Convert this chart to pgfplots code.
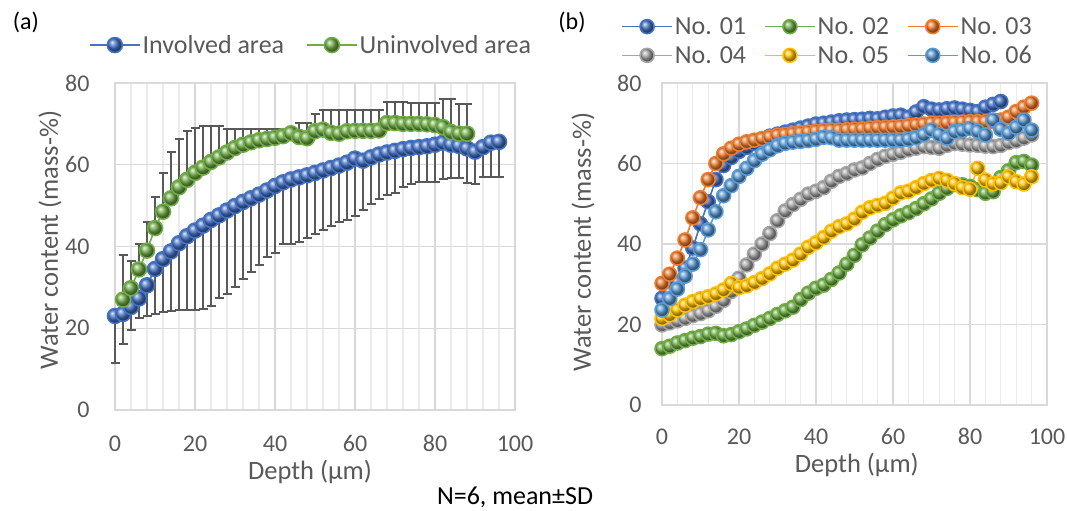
\documentclass[border=0pt]{standalone}
\usepackage{pgfplots}
\pgfplotsset{compat=1.18}
\usepackage{pgfplotstable}
\usepackage{fontspec}
\setmainfont{Carlito}

\definecolor{s1}{HTML}{4472C4}
\definecolor{s2}{HTML}{70AD47}
\definecolor{s3}{HTML}{ED7D31}
\definecolor{s4}{HTML}{A5A5A5}
\definecolor{s5}{HTML}{FFC000}
\definecolor{s6}{HTML}{5B9BD5}
\definecolor{txt}{HTML}{595959}
\definecolor{errc}{HTML}{595959}
\definecolor{gridc}{HTML}{D9D9D9}
\definecolor{gridm}{HTML}{EBEBEB}

% involved area: depth, mean, SD (drawn downwards)
\pgfplotstableread{
x y e
0 23.0 11.5
2 23.5 7.4
4 25.2 5.7
6 27.3 4.8
8 30.5 7.5
10 34.5 11.0
12 36.9 12.9
14 38.8 14.6
16 40.8 16.4
18 42.5 18.1
20 43.9 19.4
22 45.1 20.5
24 46.5 21.1
26 47.6 20.3
28 48.8 20.3
30 49.9 19.9
32 50.9 18.9
34 51.8 18.1
36 52.7 17.3
38 53.7 16.2
40 54.8 16.3
42 55.7 15.2
44 56.4 15.9
46 56.9 15.9
48 57.4 15.4
50 58.0 15.0
52 58.6 14.6
54 59.2 14.2
56 59.8 13.8
58 60.5 13.9
60 61.5 14.0
62 61.0 12.0
64 61.8 11.3
66 62.5 11.0
68 63.0 10.5
70 63.4 10.2
72 63.8 9.3
74 64.1 8.8
76 64.3 8.5
78 64.5 8.6
80 64.9 9.0
82 65.4 8.9
84 64.9 8.1
86 64.6 7.8
88 64.0 8.5
90 63.2 7.8
92 64.3 7.3
94 65.4 8.4
96 65.6 8.6
}\involved

% uninvolved area: depth, mean, SD (drawn upwards)
\pgfplotstableread{
x y e
2 27.0 10.8
4 29.8 6.7
6 34.4 6.3
8 39.0 7.0
10 44.5 7.5
12 48.5 9.5
14 51.8 11.2
16 54.5 11.8
18 56.3 12.0
20 58.0 11.0
22 59.3 10.2
24 60.7 8.8
26 61.8 7.7
28 63.0 5.8
30 64.1 4.7
32 64.9 3.9
34 65.5 3.3
36 66.0 2.8
38 66.3 2.5
40 66.6 2.2
42 67.0 1.8
44 67.7 1.1
46 66.8 3.4
48 66.5 3.7
50 68.2 4.2
52 68.6 4.8
54 67.8 5.6
56 67.6 5.8
58 68.2 5.2
60 68.3 5.1
62 68.3 5.1
64 68.3 5.1
66 68.4 5.0
68 70.2 5.2
70 70.2 5.2
72 70.0 5.4
74 70.0 5.0
76 70.0 5.0
78 69.9 5.1
80 69.7 5.3
82 69.2 6.9
84 68.0 8.1
86 67.6 7.3
88 67.6 7.3
}\uninvolved

% individual subjects No. 01 - No. 06
\pgfplotstableread{
x a b c d e f
0 26.5 14.0 30.2 19.9 21.5 23.6
2 28.0 14.6 32.5 20.4 22.4 26.4
4 30.5 15.4 36.5 20.9 23.6 28.8
6 34.0 16.0 41.0 21.5 24.8 32.0
8 39.0 16.6 46.5 22.2 25.7 35.0
10 45.0 17.0 51.5 22.7 26.4 38.6
12 50.5 17.6 56.0 23.4 26.9 43.5
14 56.0 17.8 60.0 24.5 27.6 48.0
16 59.5 17.2 62.4 26.0 28.6 52.0
18 61.5 17.5 63.8 28.2 30.2 54.5
20 63.0 18.2 64.8 31.5 29.2 56.8
22 64.0 18.9 65.4 34.8 29.6 58.8
24 65.0 19.8 65.8 37.5 30.4 60.7
26 66.0 20.6 66.2 40.0 31.4 62.3
28 66.8 21.5 66.6 42.6 32.6 63.4
30 67.3 22.5 67.0 45.8 34.0 64.4
32 67.8 23.4 67.2 48.2 35.0 65.0
34 68.3 24.3 67.4 49.8 36.0 65.3
36 68.8 26.2 67.6 51.1 37.5 65.5
38 69.3 27.8 67.8 52.4 39.2 65.7
40 69.8 29.0 68.0 53.1 40.3 66.0
42 70.0 29.8 68.2 54.0 41.6 66.5
44 70.3 31.2 68.3 55.6 43.2 66.4
46 70.6 32.8 68.3 56.8 44.3 65.8
48 70.8 35.0 68.4 57.5 45.0 65.8
50 70.9 37.2 68.5 58.4 46.2 65.8
52 71.0 39.8 68.6 58.9 47.9 65.8
54 71.2 41.5 68.8 60.0 49.0 65.8
56 71.1 43.2 68.9 61.0 49.6 65.8
58 71.5 44.8 69.0 61.8 50.1 65.8
60 71.8 46.0 69.1 62.3 51.4 65.8
62 72.0 47.0 69.2 62.8 52.7 65.8
64 71.5 47.8 69.4 63.4 53.1 66.0
66 72.8 48.8 69.6 63.8 54.0 66.4
68 74.1 50.0 69.8 64.2 55.0 67.2
70 73.5 51.2 70.0 64.0 55.8 68.3
72 73.3 52.6 70.0 63.8 56.3 67.2
74 73.6 53.8 70.1 64.5 55.8 66.3
76 73.8 54.8 70.2 65.0 55.0 67.9
78 73.5 54.7 70.3 64.8 54.0 68.2
80 73.2 54.3 70.4 64.6 53.6 68.7
82 72.9 53.5 70.4 64.5 58.8 68.0
84 74.0 52.6 70.4 64.3 55.9 67.1
86 74.7 53.0 70.4 64.2 55.0 70.8
88 75.4 56.5 70.8 64.5 55.2 68.5
90 nan 58.2 71.5 65.2 56.7 67.5
92 nan 60.2 72.9 65.6 55.5 69.0
94 nan 60.5 74.0 66.3 54.9 70.8
96 nan 59.6 75.0 67.1 56.7 68.3
}\subjects

\pgfplotsset{
  panel/.style={
    scale only axis,
    xmin=0, xmax=100, ymin=0, ymax=80,
    xtick={0,20,...,100}, ytick={0,20,...,80},
    minor x tick num=4,
    grid=both,
    major grid style={draw=gridc, line width=1.3pt},
    minor grid style={draw=gridm, line width=1.3pt},
    axis line style={draw=gridc, line width=1.5pt},
    tick style={draw=none},
    /pgf/number format/assume math mode=true,
    tick label style={font=\fontsize{24}{28}\selectfont, text=txt},
    label style={font=\fontsize{26.5}{30}\selectfont, text=txt},
    clip=false,
    legend cell align=left,
    legend image code/.code={
      \draw[mark repeat=2, mark phase=2, #1] plot coordinates {(0pt,0pt) (25pt,0pt) (50pt,0pt)};
    },
  },
  ser/.style={color=#1, line width=1.6pt, mark=ball, mark size=7.5pt,
    mark options={ball color=#1, draw=none}},
}

\begin{document}
\begin{tikzpicture}
\path[use as bounding box] (0pt,0pt) rectangle (1068pt,511pt);

\begin{axis}[panel,
  at={(115pt,101pt)}, anchor=south west,
  width=400pt, height=327pt,
  xlabel={Depth (µm)}, ylabel={Water content (mass-\%)},
  xticklabel style={yshift=-22pt},
  yticklabel style={xshift=-22pt},
  xlabel style={at={(axis description cs:0.4875,0)}, anchor=center, yshift=-62pt},
  ylabel style={at={(axis description cs:0,0.52)}, anchor=center, yshift=65pt},
  legend columns=2,
  legend style={at={(axis description cs:0.49,1.116)}, anchor=center,
    draw=none, fill=none, font=\fontsize{26}{30}\selectfont, text=txt,
    /tikz/every even column/.append style={column sep=20pt}},
]
\addplot[forget plot, draw=none, mark=none,
  error bars/.cd, y dir=minus, y explicit,
  error bar style={line width=2pt, color=errc},
  error mark options={rotate=90, mark size=4.5pt, line width=2pt, color=errc}]
  table[x=x, y=y, y error=e] {\involved};
\addplot[forget plot, draw=none, mark=none,
  error bars/.cd, y dir=plus, y explicit,
  error bar style={line width=2pt, color=errc},
  error mark options={rotate=90, mark size=4.5pt, line width=2pt, color=errc}]
  table[x=x, y=y, y error=e] {\uninvolved};
\addplot[ser=s1] table[x=x, y=y] {\involved};
\addlegendentry{Involved area}
\addplot[ser=s2] table[x=x, y=y] {\uninvolved};
\addlegendentry{Uninvolved area}
\end{axis}

\begin{axis}[panel,
  at={(662pt,106pt)}, anchor=south west,
  width=385pt, height=322pt,
  xlabel={Depth (µm)}, ylabel={Water content (mass-\%)},
  xticklabel style={yshift=-20pt},
  yticklabel style={xshift=-17pt},
  xlabel style={at={(axis description cs:0.506,0)}, anchor=center, yshift=-60pt},
  ylabel style={at={(axis description cs:0,0.506)}, anchor=center, yshift=79pt},
  legend columns=3,
  legend style={at={(axis description cs:0.43,1.13)}, anchor=center,
    draw=none, fill=none, font=\fontsize{26}{30}\selectfont, text=txt,
    /tikz/every even column/.append style={column sep=16pt},
    row sep=6pt},
  ser/.append style={mark size=7pt},
]
\addplot[ser=s1] table[x=x, y=a] {\subjects};
\addlegendentry{No. 01}
\addplot[ser=s2] table[x=x, y=b] {\subjects};
\addlegendentry{No. 02}
\addplot[ser=s3] table[x=x, y=c] {\subjects};
\addlegendentry{No. 03}
\addplot[ser=s4] table[x=x, y=d] {\subjects};
\addlegendentry{No. 04}
\addplot[ser=s5] table[x=x, y=e] {\subjects};
\addlegendentry{No. 05}
\addplot[ser=s6] table[x=x, y=f] {\subjects};
\addlegendentry{No. 06}
\end{axis}

\node[font=\fontsize{24}{28}\selectfont] at (26pt,489pt) {(a)};
\node[font=\fontsize{24}{28}\selectfont] at (572pt,489pt) {(b)};
\node[font=\fontsize{26}{30}\selectfont] at (515pt,14pt) {N=6, mean±SD};
\end{tikzpicture}
\end{document}
